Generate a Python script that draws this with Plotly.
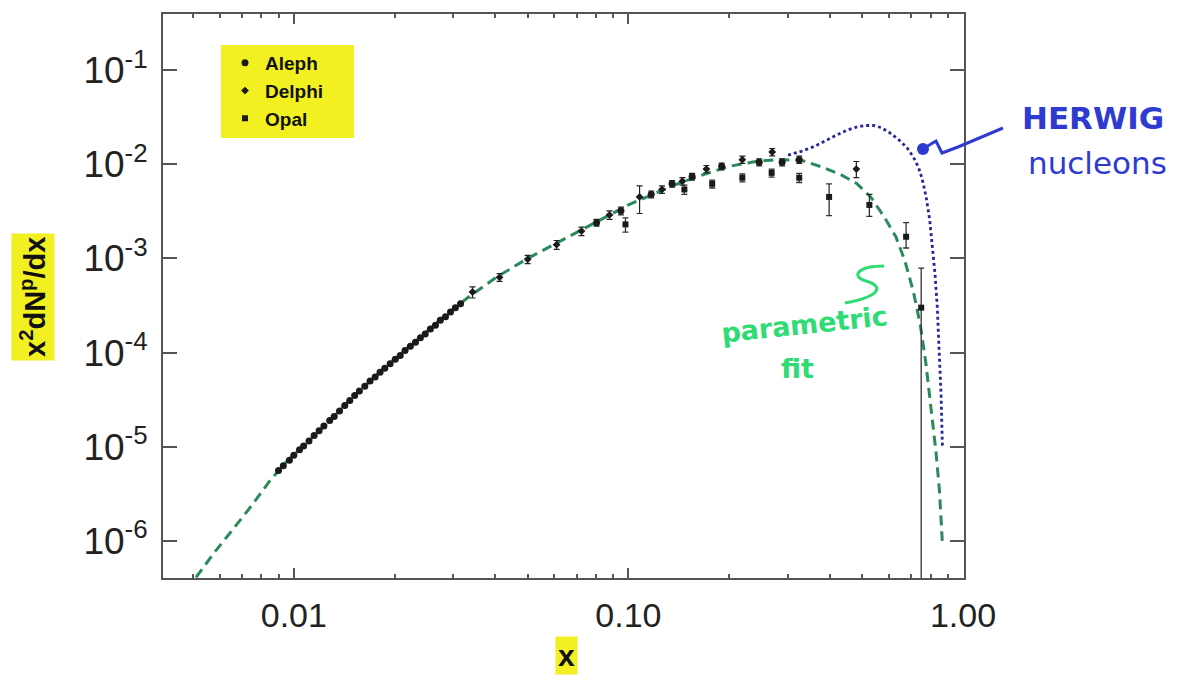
import plotly.graph_objects as go

# ---------------- data ----------------
# Aleph (circles)
aleph_x = [0.0090, 0.0093, 0.0097, 0.0100, 0.0104, 0.0107, 0.0111, 0.0115, 0.0119, 0.0123,
           0.0128, 0.0132, 0.0137, 0.0142, 0.0147, 0.0152, 0.0157, 0.0163, 0.0169, 0.0175,
           0.0181, 0.0187, 0.0194, 0.0201, 0.0208, 0.0215, 0.0223, 0.0231, 0.0239, 0.0247,
           0.0256, 0.0265, 0.0274, 0.0284, 0.0294, 0.0304, 0.0315,
           0.0803, 0.095, 0.117, 0.135, 0.155, 0.19, 0.246, 0.288, 0.324]
aleph_y = [5.6e-6, 6.3e-6, 7.2e-6, 8.1e-6, 9.3e-6, 1.02e-5, 1.15e-5, 1.32e-5, 1.48e-5, 1.66e-5,
           1.9e-5, 2.1e-5, 2.4e-5, 2.75e-5, 3.1e-5, 3.5e-5, 3.9e-5, 4.4e-5, 5.0e-5, 5.5e-5,
           6.2e-5, 6.8e-5, 7.6e-5, 8.5e-5, 9.3e-5, 1.05e-4, 1.17e-4, 1.29e-4, 1.44e-4, 1.58e-4,
           1.78e-4, 1.95e-4, 2.2e-4, 2.4e-4, 2.7e-4, 3.0e-4, 3.3e-4,
           2.4e-3, 3.2e-3, 4.8e-3, 6.2e-3, 7.4e-3, 9.5e-3, 1.05e-2, 1.05e-2, 1.12e-2]
aleph_err = [0] * 37 + [2e-4, 3e-4, 4e-4, 5e-4, 6e-4, 8e-4, 9e-4, 9e-4, 1e-3]

# Delphi (small crosses)
delphi_x = [0.0342, 0.0412, 0.050, 0.061, 0.0724, 0.0878, 0.108, 0.126, 0.145, 0.171,
            0.219, 0.269, 0.48]
delphi_y = [4.4e-4, 6.3e-4, 9.8e-4, 1.4e-3, 1.95e-3, 2.9e-3, 4.5e-3, 5.4e-3, 6.6e-3, 8.9e-3,
            1.12e-2, 1.35e-2, 8.9e-3]
delphi_up = [6e-5, 6e-5, 1e-4, 1.5e-4, 2e-4, 3e-4, 1.4e-3, 5e-4, 6e-4, 8e-4, 1e-3, 1.2e-3, 1.8e-3]
delphi_dn = [6e-5, 6e-5, 1e-4, 1.5e-4, 2e-4, 3e-4, 1.5e-3, 5e-4, 6e-4, 8e-4, 1e-3, 1.2e-3, 1.7e-3]

# Opal (squares)
opal_x = [0.098, 0.147, 0.178, 0.219, 0.268, 0.324, 0.398, 0.525, 0.676, 0.75]
opal_y = [2.3e-3, 5.4e-3, 6.2e-3, 7.2e-3, 8.1e-3, 7.2e-3, 4.5e-3, 3.7e-3, 1.7e-3, 3.0e-4]
opal_up = [4e-4, 6e-4, 6e-4, 7e-4, 8e-4, 8e-4, 1.7e-3, 1.1e-3, 7e-4, 4.9e-4]
opal_dn = [4e-4, 6e-4, 6e-4, 7e-4, 8e-4, 8e-4, 1.65e-3, 9e-4, 4.1e-4, 2.99999e-4]

# parametric fit (dashed)
fit_x = [0.0051, 0.0058, 0.0065, 0.0075, 0.0085, 0.0095, 0.011, 0.013, 0.015, 0.0175,
         0.02, 0.024, 0.028, 0.033, 0.04, 0.05, 0.06, 0.072, 0.085, 0.10,
         0.12, 0.145, 0.17, 0.2, 0.24, 0.28, 0.33, 0.38, 0.43, 0.48,
         0.53, 0.58, 0.63, 0.67, 0.71, 0.745, 0.775, 0.805, 0.83, 0.85, 0.867]
fit_y = [4.1e-7, 7.6e-7, 1.26e-6, 2.4e-6, 4.4e-6, 6.9e-6, 1.12e-5, 2.0e-5, 3.4e-5, 5.6e-5,
         8.5e-5, 1.48e-4, 2.4e-4, 3.8e-4, 6.2e-4, 1.0e-3, 1.41e-3, 2.0e-3, 2.75e-3, 3.7e-3,
         4.9e-3, 6.5e-3, 7.9e-3, 9.5e-3, 1.07e-2, 1.12e-2, 1.1e-2, 9.3e-3, 7.8e-3, 6.3e-3,
         4.5e-3, 2.8e-3, 1.7e-3, 9.5e-4, 4.5e-4, 2.0e-4, 7.6e-5, 2.4e-5, 8.9e-6, 3.5e-6, 1.0e-6]

# HERWIG nucleons (dotted)
herwig_x = [0.30, 0.33, 0.36, 0.39, 0.42, 0.45, 0.48, 0.51, 0.54, 0.57, 0.60, 0.64, 0.68,
            0.71, 0.735, 0.755, 0.775, 0.795, 0.81, 0.825, 0.838, 0.85, 0.86, 0.868]
herwig_y = [1.25e-2, 1.38e-2, 1.55e-2, 1.8e-2, 2.05e-2, 2.3e-2, 2.48e-2, 2.58e-2, 2.58e-2,
            2.45e-2, 2.2e-2, 1.85e-2, 1.5e-2, 1.2e-2, 9.4e-3, 7.0e-3, 4.6e-3, 2.6e-3, 1.4e-3,
            6.8e-4, 3.0e-4, 1.05e-4, 3.5e-5, 1.0e-5]

x_tickvals = [0.01, 0.1, 1.0]
x_ticktext = ["0.01", "0.10", "1.00"]
y_tickvals = [1e-1, 1e-2, 1e-3, 1e-4, 1e-5, 1e-6]
y_ticktext = ["10<sup>-1</sup>", "10<sup>-2</sup>", "10<sup>-3</sup>",
              "10<sup>-4</sup>", "10<sup>-5</sup>", "10<sup>-6</sup>"]
x_minor = [m * 10 ** e for e in (-3, -2, -1) for m in range(2, 10)]

# ---------------- layout helpers (pixel -> paper for decorations) ----------------
L, R, T, B = 163, 964, 14, 578
def px(xp):
    return (xp - L) / (R - L)
def py(yp):
    return (B - yp) / (B - T)

BLUE = "#2f3bd0"
GREEN = "#2fdc74"
FITC = "#2a8a5a"
YEL = "#f2f020"

fig = go.Figure()

fig.add_trace(go.Scatter(x=fit_x, y=fit_y, mode="lines", showlegend=False,
                         line=dict(color=FITC, width=3, dash="10px,6px")))
fig.add_trace(go.Scatter(x=herwig_x, y=herwig_y, mode="lines", showlegend=False,
                         line=dict(color="#27279a", width=2.8, dash="dot")))

fig.add_trace(go.Scatter(x=aleph_x, y=aleph_y, mode="markers", name="Aleph",
                         marker=dict(symbol="circle", size=7, color="#1a1a1a"),
                         error_y=dict(type="data", array=aleph_err, color="#222",
                                      thickness=1.2, width=3)))
fig.add_trace(go.Scatter(x=delphi_x, y=delphi_y, mode="markers", name="Delphi",
                         marker=dict(symbol="diamond", size=6, color="#1a1a1a"),
                         error_y=dict(type="data", symmetric=False, array=delphi_up,
                                      arrayminus=delphi_dn, color="#222",
                                      thickness=1.2, width=3)))
fig.add_trace(go.Scatter(x=opal_x, y=opal_y, mode="markers", name="Opal",
                         marker=dict(symbol="square", size=6, color="#1a1a1a"),
                         error_y=dict(type="data", symmetric=False, array=opal_up,
                                      arrayminus=opal_dn, color="#333",
                                      thickness=1.3, width=3)))

shapes = [
    # yellow legend highlight
    dict(type="rect", xref="paper", yref="paper", x0=px(221), x1=px(354), y0=py(138), y1=py(45),
         fillcolor=YEL, line=dict(width=0), layer="below"),
    # HERWIG pointer squiggle
    dict(type="path", xref="paper", yref="paper",
         path=f"M {px(921)},{py(150)} L {px(936)},{py(141)} L {px(942)},{py(153)} "
              f"L {px(958)},{py(147)} L {px(1003)},{py(128)}",
         line=dict(color=BLUE, width=3)),
    dict(type="circle", xref="paper", yref="paper", x0=px(917), x1=px(929), y0=py(155), y1=py(143),
         fillcolor=BLUE, line=dict(width=0)),
    # green "S" pointer
    dict(type="path", xref="paper", yref="paper",
         path=f"M {px(884)},{py(266)} C {px(858)},{py(266)} {px(850)},{py(276)} {px(866)},{py(281)} "
              f"C {px(886)},{py(287)} {px(878)},{py(297)} {px(845)},{py(303)}",
         line=dict(color=GREEN, width=3)),
]

def ann(text, x, y, size, color, family="DejaVu Sans", weight="normal", **kw):
    return dict(text=text, x=px(x), y=py(y), xref="paper", yref="paper", showarrow=False,
                xanchor="center", yanchor="middle",
                font=dict(family=family, size=size, color=color, weight=weight), **kw)

annotations = [
    ann("HERWIG", 1093, 118, 31, BLUE, weight="bold"),
    ann("nucleons", 1097, 163, 31, BLUE),
    ann("parametric", 804, 325, 27, GREEN, weight="bold", textangle=-6),
    ann("fit", 797, 368, 27, GREEN, weight="bold"),
    ann("x", 566, 655, 30, "#111", family="Liberation Sans", weight="bold",
        bgcolor=YEL, borderpad=2),
    ann("x<sup>2</sup>dN<sup>p</sup>/dx", 33, 297, 29, "#111", family="Liberation Sans",
        weight="bold", textangle=-90, bgcolor=YEL, borderpad=3),
]

axis_common = dict(type="log", showgrid=False, zeroline=False, showline=True,
                   linecolor="#555", linewidth=2, mirror="allticks", ticks="inside",
                   tickcolor="#555", tickwidth=1.5)

fig.update_layout(
    width=1184, height=675,
    margin=dict(l=L, r=1184 - R, t=T, b=675 - B),
    paper_bgcolor="white", plot_bgcolor="rgba(0,0,0,0)",
    xaxis=dict(**axis_common, range=[-2.391, 0.003], tickvals=x_tickvals, ticktext=x_ticktext,
               ticklen=10, ticklabelstandoff=6,
               tickfont=dict(family="Liberation Sans", size=34, color="#222"),
               minor=dict(ticks="inside", ticklen=4, tickvals=x_minor, tickcolor="#555")),
    yaxis=dict(**axis_common, range=[-6.394, -0.404], tickvals=y_tickvals, ticktext=y_ticktext,
               ticklen=14, ticklabelstandoff=6,
               tickfont=dict(family="Liberation Sans", size=37, color="#222")),
    showlegend=True,
    legend=dict(x=px(225), y=py(44), xanchor="left", yanchor="top",
                bgcolor="rgba(0,0,0,0)", borderwidth=0, itemwidth=30, tracegroupgap=0,
                font=dict(family="Liberation Sans", size=19, color="#111", weight="bold")),
    shapes=shapes, annotations=annotations,
)

fig.write_html("out.html")
